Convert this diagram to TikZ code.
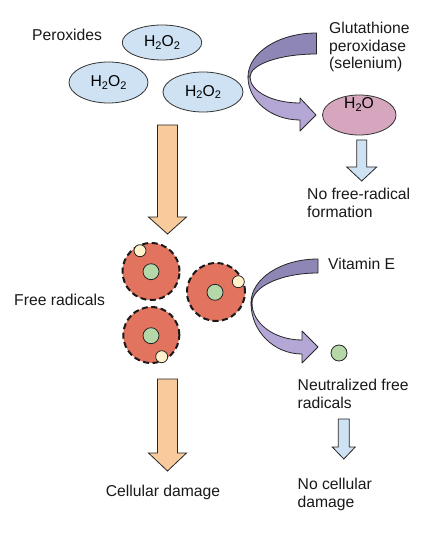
\documentclass[tikz,border=0pt]{standalone}
\usepackage{fontspec}
\setmainfont{Liberation Sans}
\usetikzlibrary{shapes.geometric}
\definecolor{peroxblue}{HTML}{CFE2F3}
\definecolor{waterpink}{HTML}{D5A6BD}
\definecolor{arroworange}{HTML}{F9CB9C}
\definecolor{radred}{HTML}{E2735E}
\definecolor{nucgreen}{HTML}{B6D7A8}
\definecolor{elecyellow}{HTML}{FFF2CC}
\definecolor{purpledark}{HTML}{8E87B5}
\definecolor{purplelight}{HTML}{B4A7D6}
\newcommand\lowsub[1]{\raisebox{-0.33ex}{\fontsize{11}{11}\selectfont #1}}
\newcommand\blockdown[7]{\draw[#1] ({#2-#3},#5) -- ({#2+#3},#5) -- ({#2+#3},#6) -- ({#2+#4},#6) -- (#2,#7) -- ({#2-#4},#6) -- ({#2-#3},#6) -- cycle;}
\begin{document}
\begin{tikzpicture}[x=1pt,y=-1pt,
  font=\fontsize{15.7}{18}\selectfont,
  lbl/.style={anchor=base west, inner sep=0pt, text=black!90},
  perox/.style={ellipse, draw=black!80, line width=0.8pt, fill=peroxblue, inner sep=0pt},
  orangearrow/.style={draw=black!85, line width=0.8pt, fill=arroworange},
  bluearrow/.style={draw=black!85, line width=0.8pt, fill=peroxblue},
  radical/.style={circle, fill=radred, draw=black!90, line width=2pt, dash pattern=on 6pt off 3.5pt, minimum size=57pt, inner sep=0pt},
  nucleus/.style={circle, fill=nucgreen, draw=black!85, line width=0.8pt, minimum size=16pt, inner sep=0pt},
  electron/.style={circle, fill=elecyellow, draw=black!85, line width=0.8pt, minimum size=12pt, inner sep=0pt},
  bandback/.style={draw=black!85, line width=0.8pt, fill=purpledark, line join=round},
  bandfront/.style={draw=black!85, line width=0.8pt, fill=purplelight, line join=round}]
\useasboundingbox (0,0) rectangle (436,548);
\fill[white] (0,0) rectangle (436,548);

% peroxides
\node[lbl] (peroxlbl) at (32,40.5) {Peroxides};
\node[perox, minimum width=79.5pt, minimum height=35pt] (p1) at (162,42.5) {H\lowsub{2}O\lowsub{2}};
\node[perox, minimum width=79pt, minimum height=41pt] (p2) at (108.5,82.5) {H\lowsub{2}O\lowsub{2}};
\node[perox, minimum width=80pt, minimum height=40pt] (p3) at (203,92) {H\lowsub{2}O\lowsub{2}};

% glutathione curved arrow
\draw[bandback] (248,77) arc[start angle=180, end angle=270, x radius=68.5, y radius=44]
  -- (316.5,54) arc[start angle=270, end angle=180, x radius=66.5, y radius=23] -- cycle;
\draw[bandfront] (248,77) arc[start angle=180, end angle=90, x radius=52, y radius=43]
  -- (300,131) -- (316,115) -- (300,98) -- (300,103)
  arc[start angle=90, end angle=180, x radius=50, y radius=26] -- cycle;
\node[lbl] (glut1) at (329,33.8) {Glutathione};
\node[lbl] (glut2) at (329,51.3) {peroxidase};
\node[lbl] (glut3) at (329,68.8) {(selenium)};

% water
\node[ellipse, draw=black!80, line width=0.8pt, fill=waterpink, minimum width=73.5pt, minimum height=40pt] (water) at (359.3,115) {};
\node[inner sep=0pt, anchor=base] (watertxt) at (359,108.5) {H\lowsub{2}O};
\blockdown{bluearrow}{361.7}{5}{15}{140}{167}{181}
\node[lbl] (nofree1) at (307,199.5) {No free-radical};
\node[lbl] (nofree2) at (307,217) {formation};

% main orange arrow
\blockdown{orangearrow}{167.5}{10}{19}{125}{217}{234}

% free radicals
\node[lbl] (freelbl) at (14,305) {Free radicals};
\node[radical] (r1) at (151,271.5) {};
\node[radical, minimum size=58pt] (r2) at (216,292) {};
\node[radical, minimum size=56pt] (r3) at (151.3,335) {};
\node[nucleus] (n1) at (151,271.7) {};
\node[nucleus] (n2) at (215,292.3) {};
\node[nucleus] (n3) at (151,335.7) {};
\node[electron] (e1) at (140,250.7) {};
\node[electron] (e2) at (238.3,281.7) {};
\node[electron] (e3) at (161.7,356.7) {};

% vitamin E curved arrow
\draw[bandback] (251,303) arc[start angle=180, end angle=270, x radius=67, y radius=44]
  -- (318,273) arc[start angle=270, end angle=180, x radius=66, y radius=30] -- cycle;
\draw[bandfront] (251,303) arc[start angle=180, end angle=90, x radius=51, y radius=51]
  -- (302,363) -- (318,347) -- (302,331) -- (302,340)
  arc[start angle=90, end angle=180, x radius=50, y radius=37] -- cycle;
\node[lbl] (vitlbl) at (328,269.3) {Vitamin E};
\node[nucleus] (neut) at (339,353) {};
\node[lbl] (neut1) at (297.5,390) {Neutralized free};
\node[lbl] (neut2) at (297.5,408.3) {radicals};
\blockdown{bluearrow}{343.8}{5.5}{11.5}{419}{447}{459}
\node[lbl] (nocell1) at (297.5,489.3) {No cellular};
\node[lbl] (nocell2) at (297.5,507.5) {damage};

% cellular damage
\blockdown{orangearrow}{167.5}{10}{19}{379}{453}{471}
\node[lbl] (celllbl) at (105.7,496) {Cellular damage};
\end{tikzpicture}
\end{document}
